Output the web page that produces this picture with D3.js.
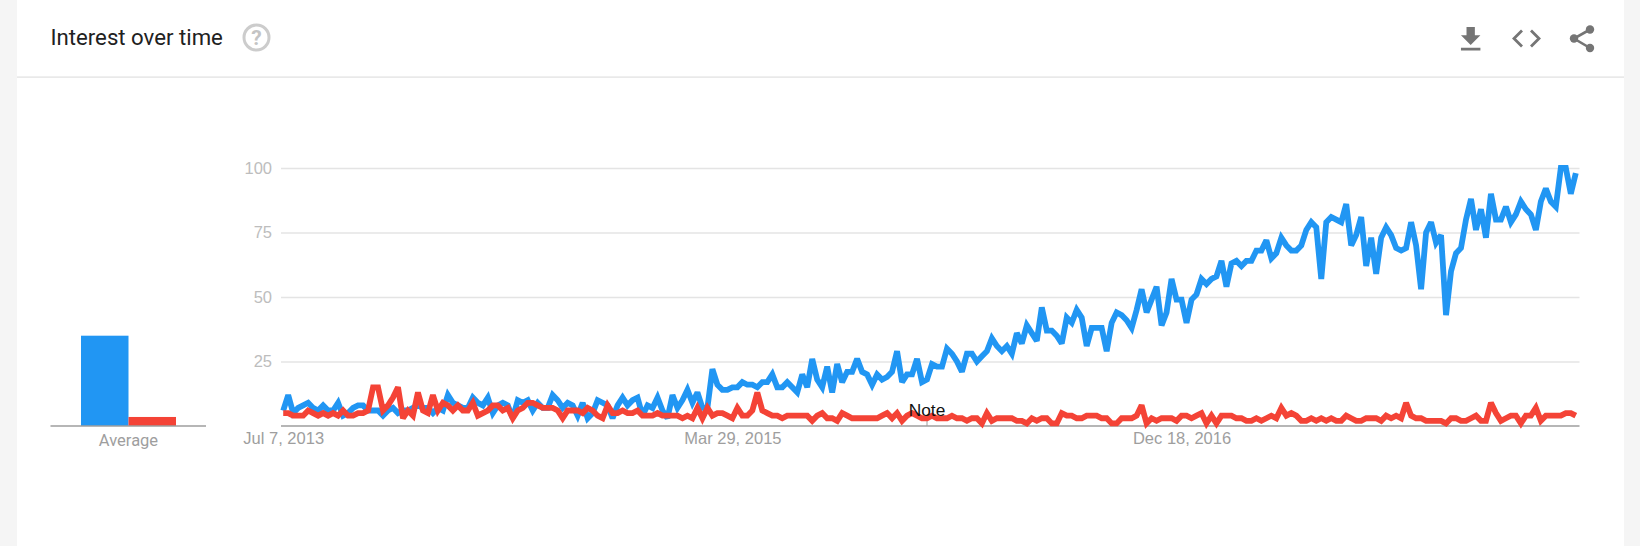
<!DOCTYPE html>
<html>
<head>
<meta charset="utf-8">
<script src="https://cdn.jsdelivr.net/npm/d3@7"></script>
<style>
    html, body { margin: 0; padding: 0; background: #f5f5f5; overflow: hidden; }
    svg { display: block; font-family: Roboto, sans-serif; }
    .grid .domain { display: none; }
    .grid line { stroke: #e4e4e4; stroke-width: 1.6; }
    .grid text { fill: #bdbdbd; font-size: 16.5px; }
    .dates .domain { stroke: #9e9e9e; stroke-width: 1.6; }
    .dates line { display: none; }
    .dates text { fill: #9e9e9e; font-size: 16.5px; }
</style>
</head>
<body>
<svg id="chart" width="1640" height="546"></svg>
<script>
// Weekly values, one per week from startDate
const startDate = new Date(2013, 6, 7);
const blueSeries = [
    6,12,5,7,8,9,7,6,8,6,
    6,9,4,5,7,8,8,6,6,6,
    4,6,7,5,6,6,7,8,7,7,
    5,7,6,12,9,8,7,7,11,9,
    8,11,5,8,9,8,3,10,9,10,
    6,9,7,7,12,10,7,9,8,4,
    9,3,5,10,9,8,3,8,11,8,
    10,11,4,8,7,11,6,3,12,7,
    10,14,9,13,7,7,22,16,14,14,
    15,15,17,16,16,15,17,17,20,15,
    15,17,15,13,20,15,26,18,15,23,
    13,24,17,21,21,26,21,20,16,20,
    18,19,21,29,17,20,20,26,17,18,
    24,23,23,30,28,25,21,28,28,25,
    27,29,34,31,29,31,28,36,32,39,
    36,33,46,37,37,35,32,42,40,45,
    42,31,38,38,38,29,40,44,43,41,
    38,45,53,44,49,54,39,44,57,49,
    49,40,49,51,57,55,57,58,64,54,
    63,64,62,64,64,68,68,72,65,67,
    73,70,68,68,70,76,79,77,57,79,
    81,80,79,86,70,74,81,62,73,59,
    73,77,74,69,68,69,79,70,53,75,
    79,71,74,43,60,67,69,80,88,76,
    84,73,90,80,80,85,79,82,87,84,
    82,76,87,92,87,85,100,100,90,98
];
const redSeries = [
    5,5,4,4,4,6,5,4,5,4,
    5,4,6,4,4,5,5,6,15,15,
    6,8,11,15,3,6,4,13,6,5,
    12,6,9,8,6,8,6,6,9,4,
    5,6,8,8,6,7,3,6,7,9,
    9,8,7,7,7,6,3,6,6,6,
    5,7,6,4,3,8,5,5,6,5,
    5,6,4,4,4,5,4,4,4,4,
    3,4,3,7,3,7,4,5,5,4,
    3,7,4,4,6,13,6,5,4,4,
    3,4,4,4,4,4,2,4,5,3,
    3,2,5,4,3,3,3,3,3,3,
    4,5,3,5,2,4,5,4,3,3,
    4,3,3,3,4,3,3,2,3,3,
    1,5,2,3,3,3,3,2,2,1,
    3,2,3,3,1,1,5,4,4,3,
    3,4,4,4,3,3,1,1,3,3,
    3,4,8,1,3,2,3,3,3,2,
    4,4,3,4,5,1,4,1,4,4,
    4,3,3,2,2,3,2,3,4,3,
    7,4,5,4,2,2,3,2,3,2,
    3,2,2,4,3,2,2,3,3,3,
    2,4,3,4,3,9,4,3,3,2,
    2,2,2,1,3,3,2,2,3,4,
    2,2,9,5,2,3,4,4,1,4,
    4,7,2,4,4,4,4,5,5,4
];
const averageNames = ['blue', 'red'];
const averageValues = [35, 3.5];
const yTicks = [25, 50, 75, 100];
const xTickDates = [new Date(2013, 6, 7), new Date(2015, 2, 29), new Date(2016, 11, 18)];
const xTickLabels = ['Jul 7, 2013', 'Mar 29, 2015', 'Dec 18, 2016'];
const noteDate = new Date(2015, 11, 27);

const BLUE = '#2196f3';
const RED = '#f44336';
const ICON = '#757575';

const svg = d3.select('#chart');

// Convert a week index to its date
function weekDate(i) {
    return d3.timeDay.offset(startDate, i * 7);
}

// Card and header
svg.append('rect').attr('x', 17).attr('y', 0).attr('width', 1607).attr('height', 546).attr('fill', '#fff');
svg.append('rect').attr('x', 17).attr('y', 76.5).attr('width', 1607).attr('height', 1.2).attr('fill', '#e0e0e0');
svg.append('text')
    .attr('x', 50.5)
    .attr('y', 45)
    .attr('fill', '#212121')
    .style('font-size', '22.2px')
    .text('Interest over time');

// Help icon
svg.append('circle').attr('cx', 256.5).attr('cy', 37.5).attr('r', 12.5)
    .attr('fill', 'none').attr('stroke', '#cccccc').attr('stroke-width', 3);
svg.append('text')
    .attr('x', 256.5).attr('y', 45)
    .attr('text-anchor', 'middle')
    .attr('fill', '#c4c4c4')
    .style('font-size', '21px')
    .style('font-weight', 700)
    .text('?');

// Download icon
svg.append('path')
    .attr('transform', 'translate(1454,22.8) scale(1.39)')
    .attr('d', 'M19 9h-4V3H9v6H5l7 7 7-7zM5 18v2h14v-2H5z')
    .attr('fill', ICON);

// Embed icon
svg.append('path')
    .attr('d', 'M1522 30.5L1514 38.5L1522 46.5M1531 30.5L1539 38.5L1531 46.5')
    .attr('fill', 'none').attr('stroke', ICON).attr('stroke-width', 2.8);

// Share icon
svg.append('path')
    .attr('d', 'M1590 29.5L1574 38.5L1590 48')
    .attr('fill', 'none').attr('stroke', ICON).attr('stroke-width', 2.6);
svg.selectAll('.share-dot')
    .data([[1590, 29.5], [1574, 38.5], [1590, 48]])
    .enter()
    .append('circle')
    .attr('class', 'share-dot')
    .attr('cx', d => d[0])
    .attr('cy', d => d[1])
    .attr('r', 4.2)
    .attr('fill', ICON);

// Scales
const y = d3.scaleLinear().domain([0, 100]).range([426, 168]);
const x = d3.scaleTime()
    .domain([startDate, weekDate(259)])
    .range([283.2, 1575.8]);
const barX = d3.scaleBand().domain(averageNames).range([81, 176]);

// Gridlines
const gridRight = 1579.5;
const gridLeft = 281;
svg.append('g')
    .attr('class', 'grid')
    .attr('transform', `translate(${gridLeft},0)`)
    .call(d3.axisLeft(y).tickValues(yTicks).tickSize(-(gridRight - gridLeft)).tickPadding(9))
    .selectAll('line')
    .attr('x1', 0);

// Date axis
const xAxis = d3.axisBottom(x)
    .tickValues(xTickDates)
    .tickFormat((d, i) => xTickLabels[i])
    .tickSize(0)
    .tickPadding(6);
const xAxisGroup = svg.append('g')
    .attr('class', 'dates')
    .attr('transform', 'translate(0,426)')
    .call(xAxis);
xAxisGroup.select('.domain').attr('d', `M${gridLeft},0H${gridRight}`);

// Note marker
svg.append('line')
    .attr('x1', x(noteDate)).attr('x2', x(noteDate))
    .attr('y1', 420).attr('y2', 426)
    .attr('stroke', '#9e9e9e').attr('stroke-width', 1);

// Lines, red on top of blue
const line = d3.line()
    .x((d, i) => x(weekDate(i)))
    .y(d => y(d))
    .curve(d3.curveLinear);

[[blueSeries, BLUE], [redSeries, RED]].forEach(([values, color]) => {
    svg.append('path')
        .datum(values)
        .attr('d', line)
        .attr('fill', 'none')
        .attr('stroke', color)
        .attr('stroke-width', 5.8)
        .attr('stroke-linejoin', 'miter')
        .attr('stroke-miterlimit', 2.6);
});

svg.append('text')
    .attr('x', x(noteDate))
    .attr('y', 416)
    .attr('text-anchor', 'middle')
    .attr('fill', '#111')
    .style('font-family', '"Liberation Sans", Arial, sans-serif')
    .style('font-size', '17.3px')
    .text('Note');

// Average bars
svg.selectAll('.average-bar')
    .data(averageValues)
    .enter()
    .append('rect')
    .attr('class', 'average-bar')
    .attr('x', (d, i) => barX(averageNames[i]))
    .attr('y', d => y(d))
    .attr('width', barX.bandwidth())
    .attr('height', d => y(0) - y(d))
    .attr('fill', (d, i) => i === 0 ? BLUE : RED);

svg.append('line')
    .attr('x1', 50.5).attr('x2', 206)
    .attr('y1', 426).attr('y2', 426)
    .attr('stroke', '#9e9e9e').attr('stroke-width', 1.6);
svg.append('text')
    .attr('x', 128.5)
    .attr('y', 446)
    .attr('text-anchor', 'middle')
    .attr('fill', '#9e9e9e')
    .style('font-size', '16.5px')
    .text('Average');
</script>
</body>
</html>
